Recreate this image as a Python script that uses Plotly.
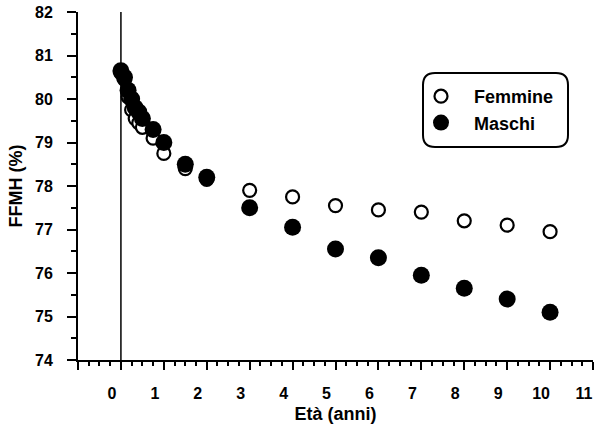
import plotly.graph_objects as go

# Age in years (0 = birth; monthly in first half year)
eta = [0, 1/12, 2/12, 3/12, 4/12, 5/12, 6/12, 0.75, 1, 1.5, 2, 3, 4, 5, 6, 7, 8, 9, 10]
femmine = [80.6, 80.45, 80.05, 79.75, 79.55, 79.45, 79.35, 79.1, 78.75, 78.4, 78.15,
           77.9, 77.75, 77.55, 77.45, 77.4, 77.2, 77.1, 76.95]
maschi = [80.65, 80.5, 80.2, 80.0, 79.8, 79.7, 79.55, 79.3, 79.0, 78.5, 78.2,
          77.5, 77.05, 76.55, 76.35, 75.95, 75.65, 75.4, 75.1]

x_ticks = list(range(-1, 12))
x_labels = ["" if v < 0 else str(v) for v in x_ticks]
y_ticks = list(range(74, 83))

FONT = "Liberation Sans, Arial, Helvetica, sans-serif"

W, H = 600, 431
# plot area in page pixels
L, R, T, B = 78, 593, 12, 360

fig = go.Figure()
fig.add_trace(go.Scatter(
    x=eta, y=femmine, mode="markers", name="Femmine",
    marker=dict(symbol="circle", size=13, color="white",
                line=dict(color="black", width=2.2)),
))
fig.add_trace(go.Scatter(
    x=eta, y=maschi, mode="markers", name="Maschi",
    marker=dict(symbol="circle", size=17, color="black",
                line=dict(color="black", width=0)),
))

# vertical line at age 0
fig.add_shape(type="line", xref="x", yref="y", x0=0, x1=0, y0=74, y1=82,
              line=dict(color="black", width=1.5), layer="below")

def px(xp):
    return (xp - L) / (R - L)
def py(yp):
    return (B - yp) / (B - T)
x0, x1, y0, y1, r = 423, 568, 73, 147, 12
path = (f"M {px(x0 + r)},{py(y0)} L {px(x1 - r)},{py(y0)} "
        f"Q {px(x1)},{py(y0)} {px(x1)},{py(y0 + r)} "
        f"L {px(x1)},{py(y1 - r)} Q {px(x1)},{py(y1)} {px(x1 - r)},{py(y1)} "
        f"L {px(x0 + r)},{py(y1)} Q {px(x0)},{py(y1)} {px(x0)},{py(y1 - r)} "
        f"L {px(x0)},{py(y0 + r)} Q {px(x0)},{py(y0)} {px(x0 + r)},{py(y0)} Z")
fig.add_shape(type="path", xref="paper", yref="paper", path=path,
              line=dict(color="black", width=2))

fig.update_layout(
    width=W, height=H,
    margin=dict(l=L, r=W - R, t=T, b=H - B, autoexpand=False),
    paper_bgcolor="white", plot_bgcolor="white",
    font=dict(family=FONT, size=16, color="black", weight="bold"),
    showlegend=True,
    legend=dict(x=px(408), y=py(78), xanchor="left", yanchor="top",
                bgcolor="rgba(0,0,0,0)", borderwidth=0, itemwidth=56,
                font=dict(family=FONT, size=18, color="black", weight="bold")),
    xaxis=dict(
        range=[-1, 11], tickvals=x_ticks, ticktext=x_labels, automargin=False,
        showgrid=False, zeroline=False, showline=True, linecolor="black", linewidth=2,
        ticks="outside", ticklen=8, tickwidth=2, tickcolor="black",
        minor=dict(dtick=0.25, ticks="outside", ticklen=4, tickwidth=1.5, tickcolor="black"),
        ticklabelshift=-9, ticklabelstandoff=10, ticklabeloverflow="allow",
        title=dict(text="Età (anni)", font=dict(size=18, family=FONT, weight="bold"), standoff=6),
    ),
    yaxis=dict(
        range=[74, 82], tickvals=y_ticks, automargin=False,
        showgrid=False, zeroline=False, showline=True, linecolor="black", linewidth=2,
        ticks="outside", ticklen=9, tickwidth=2, tickcolor="black",
        minor=dict(dtick=0.5, ticks="outside", ticklen=5, tickwidth=1.5, tickcolor="black"),
        ticklabelstandoff=11, ticklabeloverflow="allow",
        title=dict(text="FFMH (%)", font=dict(size=18, family=FONT, weight="bold"), standoff=8),
    ),
)

fig.write_html("out.html",
               config={"displayModeBar": False},
               post_script="document.body.style.margin='0';document.body.style.padding='0';")
